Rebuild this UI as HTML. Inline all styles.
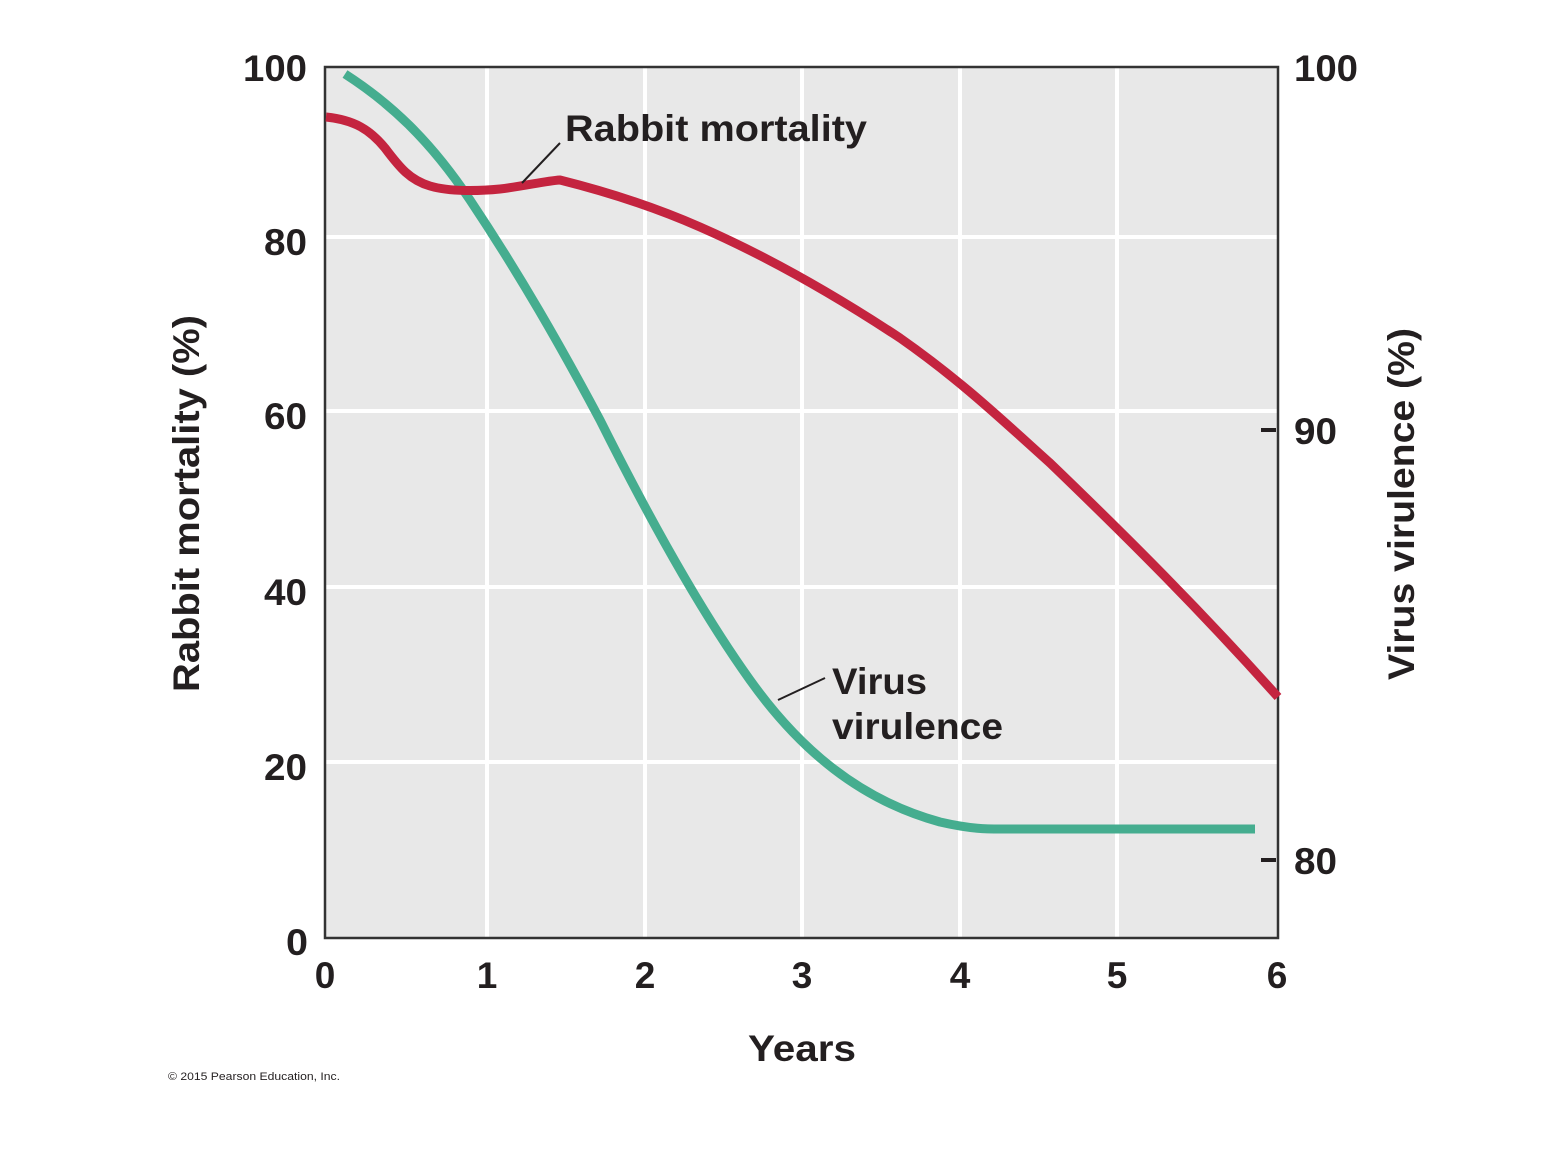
<!DOCTYPE html>
<html><head><meta charset="utf-8"><style>
html,body{margin:0;padding:0;background:#fff;}
svg text{font-family:"Liberation Sans",Arial,sans-serif;font-weight:bold;fill:#231f20;}
</style></head><body>
<svg width="1546" height="1152" viewBox="0 0 1546 1152" xmlns="http://www.w3.org/2000/svg">
<rect x="325" y="67" width="953" height="871" fill="#e8e8e8"/>
<g stroke="#fff" stroke-width="4">
<line x1="487" y1="67" x2="487" y2="938"/>
<line x1="645" y1="67" x2="645" y2="938"/>
<line x1="802" y1="67" x2="802" y2="938"/>
<line x1="960" y1="67" x2="960" y2="938"/>
<line x1="1117" y1="67" x2="1117" y2="938"/>
<line x1="325" y1="237" x2="1278" y2="237"/>
<line x1="325" y1="411" x2="1278" y2="411"/>
<line x1="325" y1="587" x2="1278" y2="587"/>
<line x1="325" y1="762" x2="1278" y2="762"/>
</g>
<rect x="325" y="67" width="953" height="871" fill="none" stroke="#333" stroke-width="2.5"/>
<g stroke="#231f20" stroke-width="4">
<line x1="1261" y1="430" x2="1276" y2="430"/>
<line x1="1261" y1="860" x2="1276" y2="860"/>
</g>
<path d="M345,74 C390,103 430,140 470,200 C520,275 560,345 600,420 C650,520 700,610 750,680 C800,750 860,800 940,822 C975,830 990,829 1010,829 L1255,829" fill="none" stroke="#45ad8f" stroke-width="9"/>
<path d="M326,117 C355,120 370,130 385,148 C400,168 410,180 430,186 C450,192 480,191 500,189 C525,186 545,181 560,180 C600,190 650,205 700,227 C780,262 850,305 900,338 C960,380 1000,418 1050,463 C1130,540 1200,610 1278,697" fill="none" stroke="#c4243f" stroke-width="9"/>
<line x1="560" y1="143" x2="522" y2="183" stroke="#231f20" stroke-width="2"/>
<line x1="825" y1="678" x2="778" y2="700" stroke="#231f20" stroke-width="2"/>
<text x="565" y="141" font-size="37" textLength="302" lengthAdjust="spacingAndGlyphs">Rabbit mortality</text>
<text x="832" y="694" font-size="37" textLength="95" lengthAdjust="spacingAndGlyphs">Virus</text>
<text x="832" y="739" font-size="37" textLength="171" lengthAdjust="spacingAndGlyphs">virulence</text>
<g font-size="37">
<text x="243" y="81" textLength="64" lengthAdjust="spacingAndGlyphs">100</text>
<text x="264" y="255" textLength="43" lengthAdjust="spacingAndGlyphs">80</text>
<text x="264" y="429" textLength="43" lengthAdjust="spacingAndGlyphs">60</text>
<text x="264" y="605" textLength="43" lengthAdjust="spacingAndGlyphs">40</text>
<text x="264" y="780" textLength="43" lengthAdjust="spacingAndGlyphs">20</text>
<text x="286" y="955" textLength="22" lengthAdjust="spacingAndGlyphs">0</text>
<text x="1294" y="81" textLength="64" lengthAdjust="spacingAndGlyphs">100</text>
<text x="1294" y="444" textLength="43" lengthAdjust="spacingAndGlyphs">90</text>
<text x="1294" y="874" textLength="43" lengthAdjust="spacingAndGlyphs">80</text>
</g>
<g font-size="37" text-anchor="middle">
<text x="325" y="988">0</text>
<text x="487" y="988">1</text>
<text x="645" y="988">2</text>
<text x="802" y="988">3</text>
<text x="960" y="988">4</text>
<text x="1117" y="988">5</text>
<text x="1277" y="988">6</text>
</g>
<text x="748" y="1061" font-size="37" textLength="108" lengthAdjust="spacingAndGlyphs">Years</text>
<text transform="translate(199,692) rotate(-90)" font-size="37" textLength="377" lengthAdjust="spacingAndGlyphs">Rabbit mortality (%)</text>
<text transform="translate(1414,680) rotate(-90)" font-size="37" textLength="352" lengthAdjust="spacingAndGlyphs">Virus virulence (%)</text>
<text x="168" y="1080" font-size="11" style="font-weight:normal" textLength="172" lengthAdjust="spacingAndGlyphs">© 2015 Pearson Education, Inc.</text>
</svg>
</body></html>
